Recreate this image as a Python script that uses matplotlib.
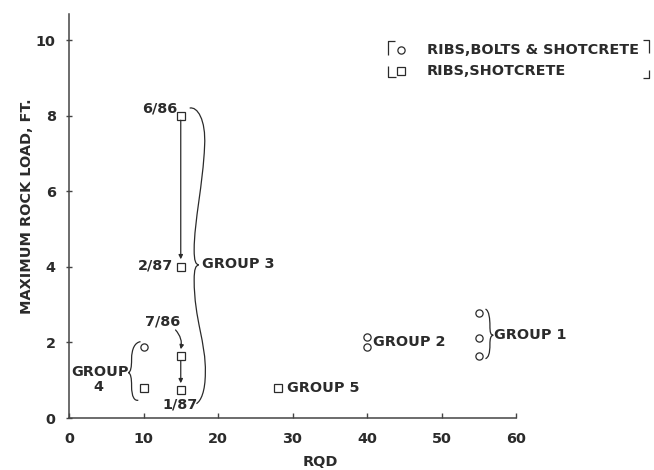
import matplotlib
matplotlib.use("Agg")
import matplotlib.pyplot as plt
from matplotlib.path import Path
from matplotlib.patches import PathPatch

# ---- data ----
circle_x = [55, 55, 55, 40, 40, 10]
circle_y = [2.78, 2.12, 1.64, 2.14, 1.87, 1.87]
square_x = [15, 15, 15, 15, 10, 28]
square_y = [8.0, 4.0, 1.64, 0.74, 0.79, 0.79]
date_labels = ["6/86", "2/87", "7/86", "1/87"]
x_ticks = [0, 10, 20, 30, 40, 50, 60]
y_ticks = [0, 2, 4, 6, 8, 10]
legend_labels = ["RIBS,BOLTS & SHOTCRETE", "RIBS,SHOTCRETE"]
group_labels = ["GROUP 1", "GROUP 2", "GROUP 3", "GROUP\n4", "GROUP 5"]

INK = "#2b2b2b"
FONT = "DejaVu Sans"
FS = 10.4

plt.rcParams['font.family'] = [FONT]

fig = plt.figure(figsize=(6.54, 4.70), dpi=100)
ax = fig.add_axes([69/654, 52/470, 447/654, 404/470])
ax.set_xlim(0, 60)
ax.set_ylim(0, 10.69)

for s in ["top", "right"]:
    ax.spines[s].set_visible(False)
for s in ["left", "bottom"]:
    ax.spines[s].set_color("#444444")
    ax.spines[s].set_linewidth(1.1)

ax.set_xticks(x_ticks)
ax.set_yticks(y_ticks)
ax.tick_params(axis="x", direction="in", length=3.5, width=1, colors="#444444",
               pad=10, labelsize=FS, labelcolor=INK)
ax.tick_params(axis="y", direction="inout", length=5, width=1, colors="#444444",
               pad=7, labelsize=FS, labelcolor=INK)
for lab in ax.get_xticklabels() + ax.get_yticklabels():
    lab.set_fontweight("bold")

tkw = dict(fontsize=FS, fontweight="bold", color=INK)

ax.text(33.8, -1.16, "RQD", ha="center", va="center", clip_on=False, **tkw)
ax.text(-5.6, 5.6, "MAXIMUM ROCK LOAD, FT.", rotation=90, ha="center", va="center",
        clip_on=False, **tkw)

mk = dict(linestyle="none", markerfacecolor="white", markeredgecolor=INK,
          markeredgewidth=0.9, clip_on=False, zorder=3)
ax.plot(circle_x, circle_y, marker="o", markersize=5.2, **mk)
ax.plot(square_x, square_y, marker="s", markersize=5.8, **mk)

# date labels for group 3
ax.text(14.5, 8.2, date_labels[0], ha="right", va="center", **tkw)
ax.text(14.0, 4.03, date_labels[1], ha="right", va="center", **tkw)
ax.text(12.6, 2.55, date_labels[2], ha="center", va="center", **tkw)
ax.text(14.9, 0.37, date_labels[3], ha="center", va="center", **tkw)

# arrows
akw = dict(arrowstyle="-|>", color=INK, lw=0.9, mutation_scale=6, shrinkA=0, shrinkB=0)
ax.annotate("", xy=(square_x[1], 4.2), xytext=(square_x[0], 7.88), arrowprops=akw)
ax.annotate("", xy=(square_x[3], 0.92), xytext=(square_x[2], 1.52), arrowprops=akw)
ax.annotate("", xy=(15.0, 1.82), xytext=(14.3, 2.33),
            arrowprops=dict(akw, connectionstyle="arc3,rad=-0.25"))

# group labels
ax.text(57.1, 2.2, group_labels[0], ha="left", va="center", **tkw)
ax.text(40.8, 2.0, group_labels[1], ha="left", va="center", **tkw)
ax.text(17.8, 4.07, group_labels[2], ha="left", va="center", **tkw)
ax.text(4.1, 1.22, "GROUP", ha="center", va="center", **tkw)
ax.text(3.9, 0.82, "4", ha="center", va="center", **tkw)
ax.text(29.2, 0.80, group_labels[4], ha="left", va="center", **tkw)


def curve(pts, **kw):
    codes = [Path.MOVETO] + [Path.CURVE4] * (len(pts) - 1)
    p = PathPatch(Path(pts, codes), facecolor="none", edgecolor=INK, lw=0.9,
                  clip_on=False, **kw)
    ax.add_patch(p)

# group 3 brace (wavy)
curve([(16.2, 8.2),
       (17.2, 8.25), (18.4, 7.9), (18.2, 7.2),
       (18.0, 6.2), (16.8, 5.2), (16.8, 4.45),
       (16.8, 4.15), (17.0, 4.07), (17.4, 4.05),
       (17.0, 4.03), (16.8, 3.95), (16.8, 3.65),
       (16.8, 2.6), (18.4, 2.0), (18.3, 1.2),
       (18.3, 0.7), (17.7, 0.45), (17.1, 0.38)])

# group 4 brace (left-pointing)
curve([(9.6, 2.02),
       (8.9, 2.0), (8.4, 1.85), (8.4, 1.55),
       (8.4, 1.35), (8.3, 1.22), (7.95, 1.2),
       (8.3, 1.18), (8.4, 1.05), (8.4, 0.85),
       (8.4, 0.55), (8.8, 0.45), (9.3, 0.47)])

# group 1 brace (right-pointing)
curve([(55.9, 2.88),
       (56.4, 2.85), (56.5, 2.6), (56.5, 2.45),
       (56.5, 2.25), (56.6, 2.2), (56.95, 2.19),
       (56.6, 2.18), (56.5, 2.1), (56.5, 1.95),
       (56.5, 1.7), (56.3, 1.6), (55.9, 1.57)])

# legend with corner brackets
ly = [9.73, 9.19]
ax.plot([44.6], [ly[0]], marker="o", markersize=5.2, **mk)
ax.plot([44.6], [ly[1]], marker="s", markersize=5.8, **mk)
ax.text(48.0, ly[0], legend_labels[0], ha="left", va="center", **tkw)
ax.text(48.0, ly[1], legend_labels[1], ha="left", va="center", **tkw)
bk = dict(color=INK, lw=0.9, clip_on=False, solid_capstyle="butt")
ax.plot([42.85, 42.85, 43.7], [9.6, 9.97, 9.97], **bk)
ax.plot([42.85, 42.85, 43.9], [9.31, 9.02, 9.02], **bk)
ax.plot([77.0, 77.85, 77.85], [10.0, 10.0, 9.66], **bk)
ax.plot([77.0, 77.85, 77.85], [9.0, 9.0, 9.2], **bk)

fig.savefig("out.png", dpi=100, facecolor="white")
